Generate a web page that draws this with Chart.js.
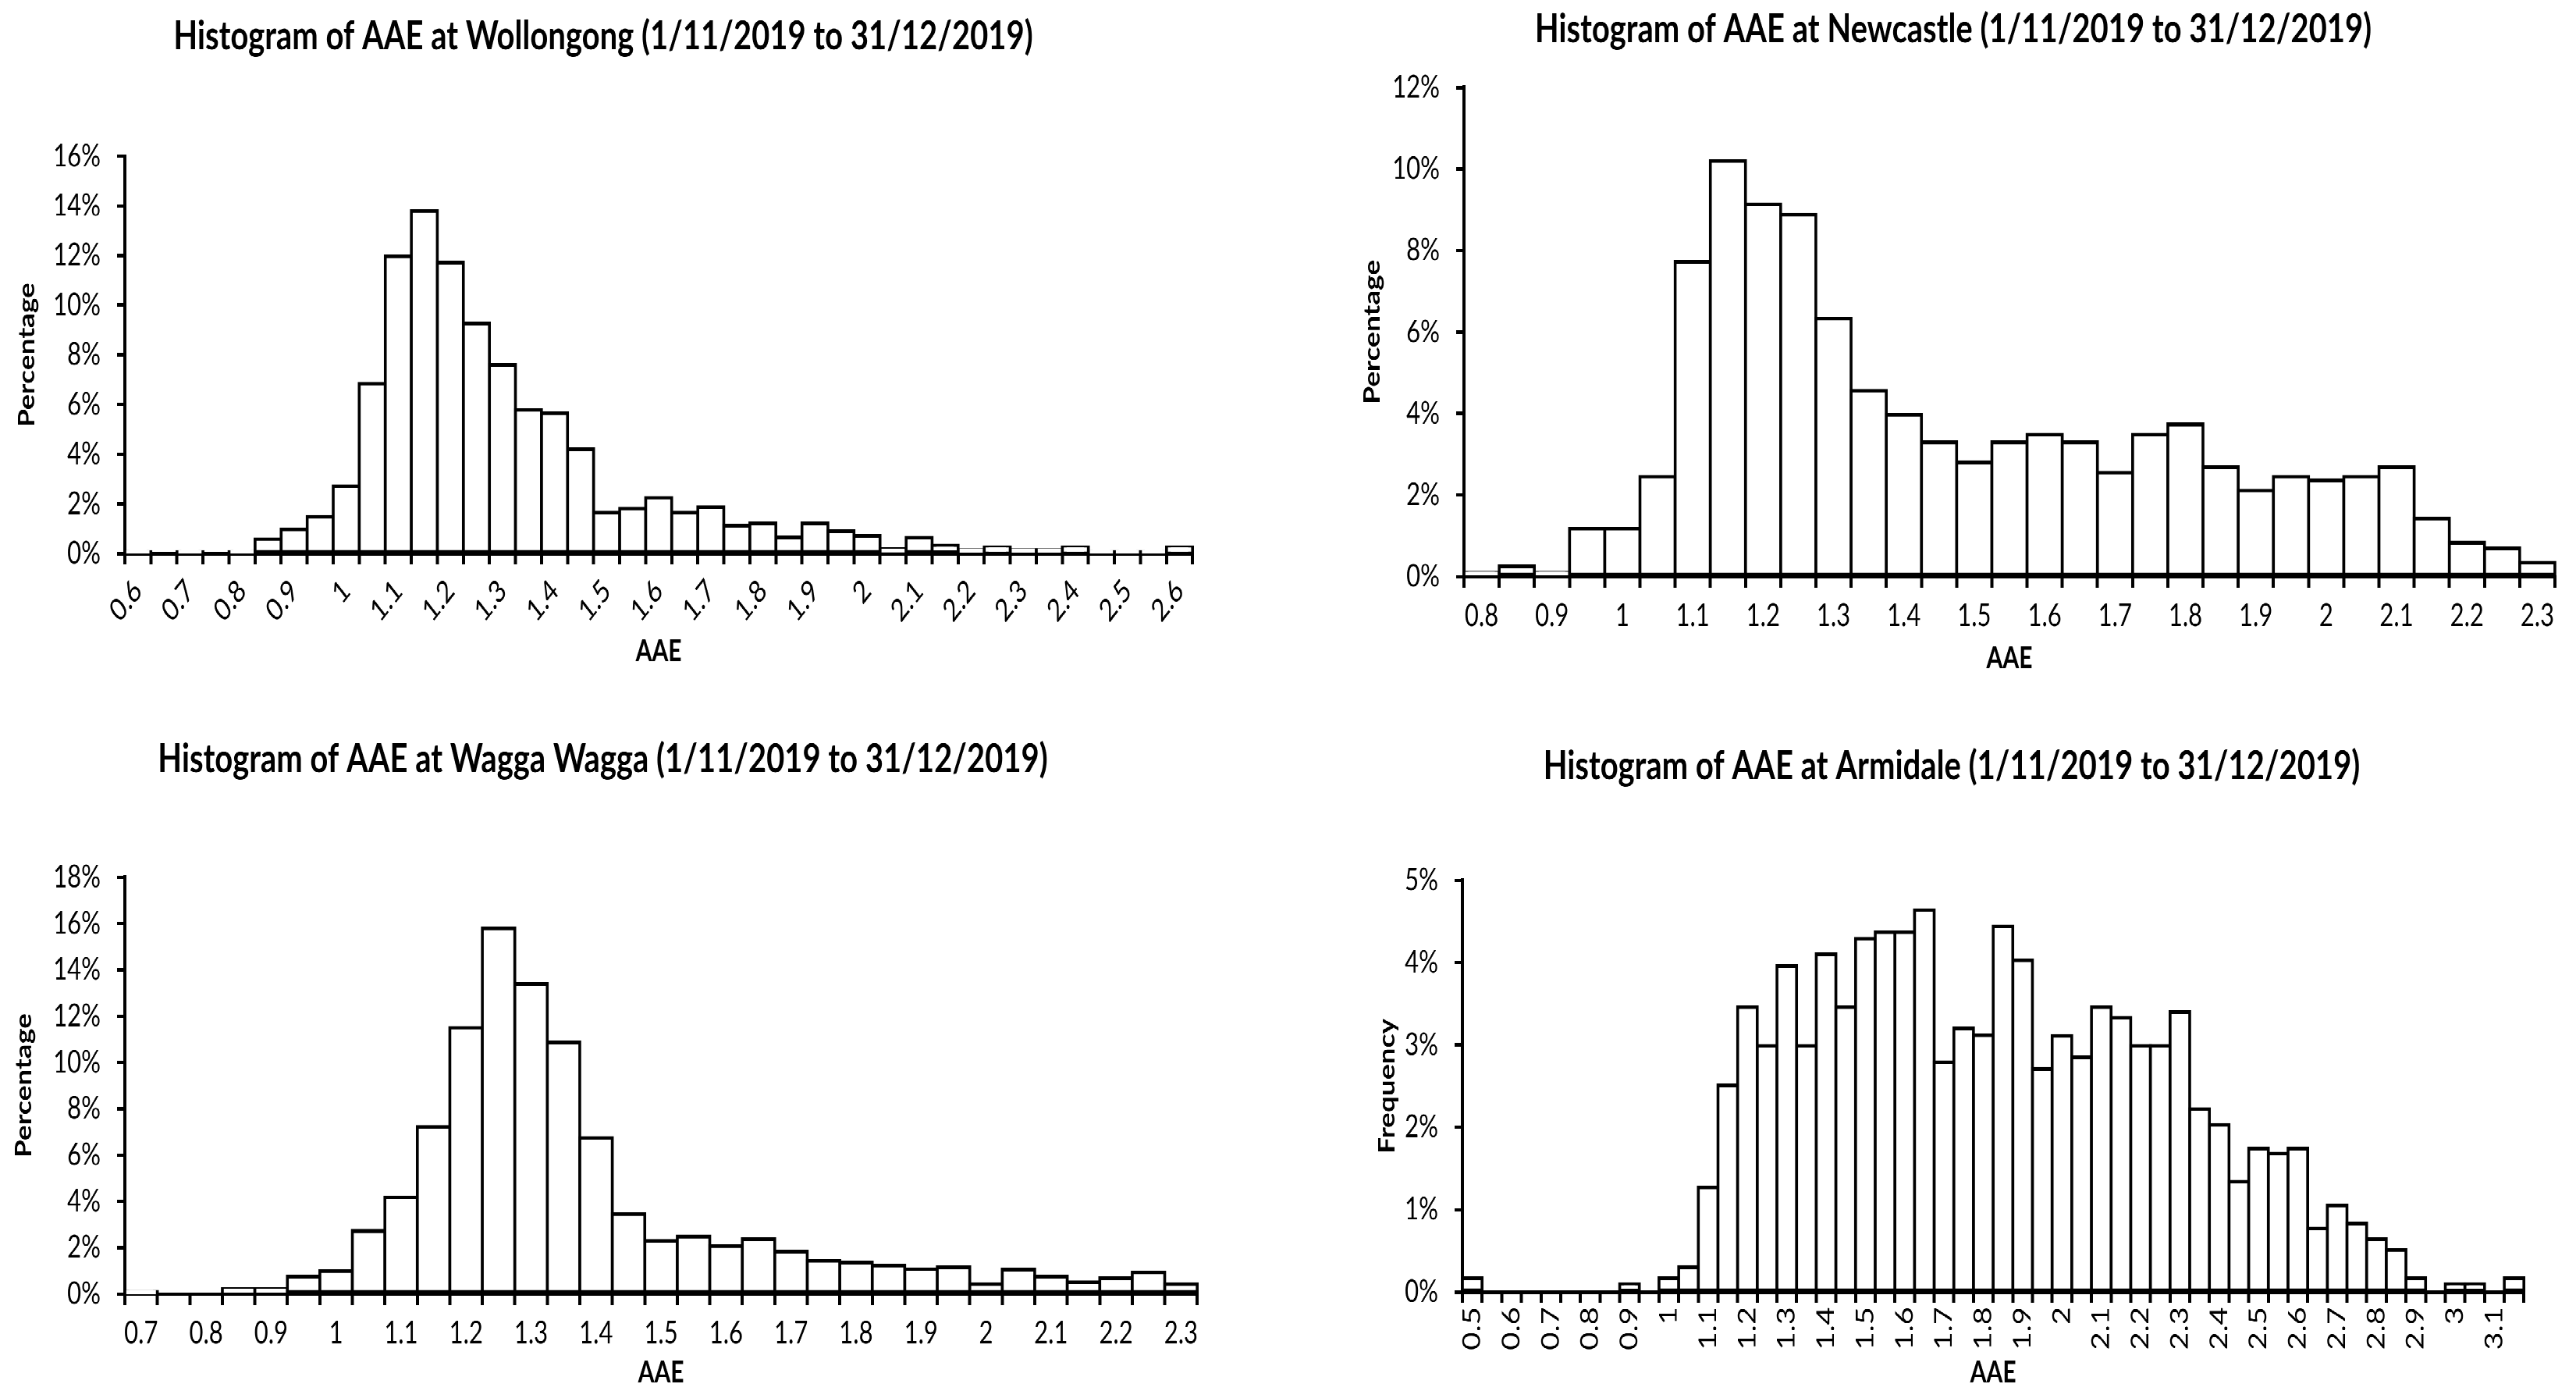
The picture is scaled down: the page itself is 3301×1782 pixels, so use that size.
<!DOCTYPE html>
<html>
<head>
<meta charset="utf-8">
<script src="https://cdn.jsdelivr.net/npm/chart.js@4.4.1/dist/chart.umd.min.js"></script>
<style>
  html, body { margin: 0; padding: 0; background: #fff; width: 3301px; height: 1782px; overflow: hidden; }
  /* the source picture is stretched vertically, so the whole sheet is drawn flatter and scaled up */
  #stage { position: absolute; left: 0; top: 0; width: 3301px; height: 1392px; transform: scaleY(1.28); transform-origin: 0 0; }
  .panel { position: absolute; }
</style>
</head>
<body>
<div id="stage">
  <div class="panel" style="left:0px;top:0px;width:1546px;height:674px"><canvas id="chartWol"></canvas></div>
  <div class="panel" style="left:1716px;top:0px;width:1574px;height:677px"><canvas id="chartNew"></canvas></div>
  <div class="panel" style="left:0px;top:700px;width:1545px;height:692px"><canvas id="chartWag"></canvas></div>
  <div class="panel" style="left:1739px;top:700px;width:1524px;height:692px"><canvas id="chartArm"></canvas></div>
</div>
<script>
const BLACK = "#000";
const FONT = "Lato, 'Open Sans', sans-serif";

// Wollongong
const WOL_BINS = ["0.6","0.65","0.7","0.75","0.8","0.85","0.9","0.95","1","1.05","1.1","1.15","1.2","1.25","1.3","1.35","1.4","1.45","1.5","1.55","1.6","1.65","1.7","1.75","1.8","1.85","1.9","1.95","2","2.05","2.1","2.15","2.2","2.25","2.3","2.35","2.4","2.45","2.5","2.55","2.6"];
const WOL_PCT = [0.07,0,0.07,0,0.07,0.58,0.97,1.48,2.71,6.84,11.97,13.8,11.72,9.26,7.59,5.78,5.65,4.2,1.65,1.81,2.25,1.65,1.87,1.12,1.22,0.65,1.22,0.9,0.72,0.17,0.64,0.32,0.14,0.25,0.14,0.14,0.25,0.07,0.07,0.07,0.25];

// Newcastle
const NEW_BINS = ["0.8","0.85","0.9","0.95","1","1.05","1.1","1.15","1.2","1.25","1.3","1.35","1.4","1.45","1.5","1.55","1.6","1.65","1.7","1.75","1.8","1.85","1.9","1.95","2","2.05","2.1","2.15","2.2","2.25","2.3"];
const NEW_PCT = [0.1,0.25,0.1,1.18,1.18,2.45,7.72,10.2,9.13,8.88,6.33,4.56,3.97,3.29,2.8,3.29,3.48,3.29,2.55,3.48,3.73,2.68,2.11,2.45,2.36,2.45,2.68,1.42,0.83,0.69,0.34];

// Wagga Wagga
const WAG_BINS = ["0.7","0.75","0.8","0.85","0.9","0.95","1","1.05","1.1","1.15","1.2","1.25","1.3","1.35","1.4","1.45","1.5","1.55","1.6","1.65","1.7","1.75","1.8","1.85","1.9","1.95","2","2.05","2.1","2.15","2.2","2.25","2.3"];
const WAG_PCT = [0.08,0,0,0.2,0.2,0.75,0.99,2.72,4.18,7.21,11.5,15.8,13.39,10.86,6.73,3.45,2.29,2.48,2.07,2.37,1.82,1.43,1.35,1.23,1.07,1.15,0.42,1.04,0.75,0.5,0.68,0.94,0.42];

// Armidale
const ARM_BINS = ["0.5","0.55","0.6","0.65","0.7","0.75","0.8","0.85","0.9","0.95","1","1.05","1.1","1.15","1.2","1.25","1.3","1.35","1.4","1.45","1.5","1.55","1.6","1.65","1.7","1.75","1.8","1.85","1.9","1.95","2","2.05","2.1","2.15","2.2","2.25","2.3","2.35","2.4","2.45","2.5","2.55","2.6","2.65","2.7","2.75","2.8","2.85","2.9","2.95","3","3.05","3.1","3.15"];
const ARM_PCT = [0.165,0,0,0,0,0,0,0,0.095,0,0.165,0.3,1.27,2.51,3.46,2.99,3.96,2.99,4.1,3.46,4.29,4.37,4.37,4.64,2.79,3.2,3.12,4.44,4.03,2.71,3.11,2.85,3.46,3.33,2.99,2.99,3.4,2.22,2.03,1.34,1.74,1.68,1.74,0.77,1.05,0.83,0.64,0.51,0.165,0,0.095,0.095,0,0.165];

function histogram(id, title, bins, values, o) {
  new Chart(document.getElementById(id), {
    type: "bar",
    data: {
      labels: bins,
      datasets: [{
        data: values,
        backgroundColor: "#fff",
        borderColor: BLACK,
        borderWidth: 3.7,
        borderSkipped: false,
        inflateAmount: 1.85,
        categoryPercentage: 1,
        barPercentage: 1,
        clip: false
      }]
    },
    options: {
      responsive: true,
      maintainAspectRatio: false,
      animation: false,
      devicePixelRatio: 2,
      layout: {padding: {left: o.pad, right: o.pad}},
      plugins: {
        legend: {display: false},
        tooltip: {enabled: false},
        title: {
          display: true, text: title, color: BLACK,
          font: {family: FONT, size: 40, weight: "bold"},
          padding: o.titlePad
        }
      },
      scales: {
        x: {
          offset: true,
          grid: {offset: true, drawOnChartArea: false, tickLength: 11, color: BLACK, lineWidth: 4},
          border: {color: BLACK, width: 3.5},
          ticks: {
            autoSkip: false, minRotation: o.rot, maxRotation: o.rot, padding: o.xPad,
            color: BLACK, font: {family: FONT, size: 31},
            callback: (v, i) => i % 2 ? "" : bins[i]
          },
          title: {display: true, text: "AAE", color: BLACK, font: {family: FONT, size: 30, weight: "bold"}, padding: {top: 0, bottom: o.xTitlePad}},
          afterFit: s => { s.height = o.xH; }
        },
        y: {
          min: 0, max: o.yMax,
          grid: {drawOnChartArea: false, tickLength: 10, color: BLACK, lineWidth: 3.5},
          border: {color: BLACK, width: 4},
          ticks: {stepSize: o.yStep, padding: 21, color: BLACK, font: {family: FONT, size: 31}, callback: v => v + "%"},
          title: {display: true, text: o.yTitle, color: BLACK, font: {family: FONT, size: 29, weight: "bold"}, padding: {top: o.yTitlePad, bottom: 0}},
          afterFit: s => { s.width = o.yW; }
        }
      }
    }
  });
}

histogram("chartWol", "Histogram of AAE at Wollongong (1/11/2019 to 31/12/2019)", WOL_BINS, WOL_PCT,
  {pad: 16, yW: 144, xH: 120, titlePad: {top: 12.7, bottom: 95.6}, yTitlePad: 1, xTitlePad: 4, rot: 45, xPad: 8, yMax: 16, yStep: 2, yTitle: "Percentage"});
histogram("chartNew", "Histogram of AAE at Newcastle (1/11/2019 to 31/12/2019)", NEW_BINS, NEW_PCT,
  {pad: 16, yW: 144, xH: 100, titlePad: {top: 5.7, bottom: 33.8}, yTitlePad: 9, xTitlePad: 0, rot: 0, xPad: 10, yMax: 12, yStep: 2, yTitle: "Percentage"});
histogram("chartWag", "Histogram of AAE at Wagga Wagga (1/11/2019 to 31/12/2019)", WAG_BINS, WAG_PCT,
  {pad: 0, yW: 160, xH: 97, titlePad: {top: 36, bottom: 94}, yTitlePad: 13, xTitlePad: 0, rot: 0, xPad: 10, yMax: 18, yStep: 2, yTitle: "Percentage"});
histogram("chartArm", "Histogram of AAE at Armidale (1/11/2019 to 31/12/2019)", ARM_BINS, ARM_PCT,
  {pad: 16, yW: 119, xH: 99, titlePad: {top: 43, bottom: 90}, yTitlePad: 5, xTitlePad: 0, rot: 90, xPad: 4, yMax: 5, yStep: 1, yTitle: "Frequency"});
</script>
</body>
</html>
